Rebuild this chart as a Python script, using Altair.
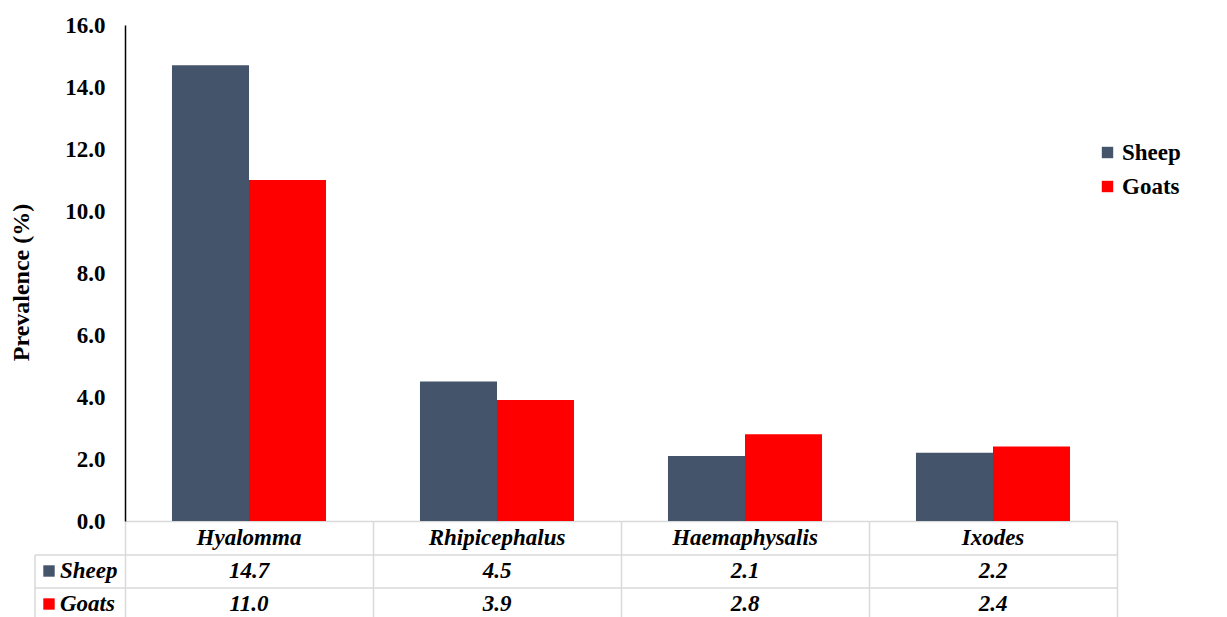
import altair as alt
import pandas as pd

categories = ["Hyalomma", "Rhipicephalus", "Haemaphysalis", "Ixodes"]
series = ["Sheep", "Goats"]
sheep = [14.7, 4.5, 2.1, 2.2]
goats = [11.0, 3.9, 2.8, 2.4]
colors = ["#44546A", "#FF0000"]

rows = []
for c, s, g in zip(categories, sheep, goats):
    rows.append({"category": c, "series": "Sheep", "value": s, "label": f"{s:.1f}"})
    rows.append({"category": c, "series": "Goats", "value": g, "label": f"{g:.1f}"})
df = pd.DataFrame(rows)
cat_df = pd.DataFrame({"category": categories})
ser_df = pd.DataFrame({"series": series})

FONT = "Liberation Serif"
FS = 23
GRID = "#d9d9d9"
W, H = 992, 496

xenc = alt.X("category:N", sort=categories, title=None,
             scale=alt.Scale(domain=categories, paddingInner=0, paddingOuter=0),
             axis=alt.Axis(labels=False, ticks=True, tickBand="extent", tickSize=96,
                           tickColor=GRID, tickWidth=1.5, domainColor=GRID, domainWidth=1.5,
                           grid=False))
color_scale = alt.Scale(domain=series, range=colors)
row_scale = alt.Scale(domain=series, range=[546, 579], padding=0)

bars = alt.Chart(df).mark_bar().encode(
    x=xenc,
    xOffset=alt.XOffset("series:N", sort=series,
                        scale=alt.Scale(domain=series, paddingInner=0, paddingOuter=0.61)),
    y=alt.Y("value:Q", title="Prevalence (%)",
            scale=alt.Scale(domain=[0, 16], nice=False),
            axis=alt.Axis(values=list(range(0, 17, 2)), format=".1f", ticks=False, grid=False,
                          domainColor="black", domainWidth=1.5, labelPadding=20,
                          labelFont=FONT, labelFontSize=FS, labelFontWeight="bold", labelColor="black",
                          titleFont=FONT, titleFontSize=24, titleFontWeight="bold", titleColor="black",
                          titlePadding=31, titleY=257)),
    color=alt.Color("series:N", scale=color_scale, sort=series,
                    legend=alt.Legend(title=None, orient="none", legendX=971, legendY=116,
                                      symbolType="square", symbolSize=130, symbolStrokeWidth=0,
                                      labelFont=FONT, labelFontSize=FS, labelFontWeight="bold",
                                      labelColor="black", rowPadding=10, labelOffset=3)),
)

header = alt.Chart(cat_df).mark_text(font=FONT, fontSize=FS, fontWeight="bold", fontStyle="italic",
                                     color="black", baseline="middle").encode(
    x=alt.X("category:N", sort=categories),
    y=alt.value(513),
    text="category:N",
)

values = alt.Chart(df).mark_text(font=FONT, fontSize=FS, fontWeight="bold", fontStyle="italic",
                                 color="black", baseline="middle").encode(
    x=alt.X("category:N", sort=categories),
    y=alt.Y("series:N", sort=series, axis=None, scale=row_scale),
    text="label:N",
)

row_labels = alt.Chart(ser_df).mark_text(font=FONT, fontSize=FS, fontWeight="bold", fontStyle="italic",
                                         color="black", baseline="middle", align="left").encode(
    x=alt.value(-65),
    y=alt.Y("series:N", sort=series, axis=None, scale=row_scale),
    text="series:N",
)

row_keys = alt.Chart(ser_df).mark_point(shape="square", filled=True, size=130, opacity=1).encode(
    x=alt.value(-76),
    y=alt.Y("series:N", sort=series, axis=None, scale=row_scale),
    color=alt.Color("series:N", scale=color_scale, sort=series, legend=None),
)

one = alt.Data(values=[{}])
hline1 = alt.Chart(one).mark_rule(color=GRID, strokeWidth=1.5).encode(
    x=alt.value(-90), x2=alt.value(W), y=alt.value(530))
hline2 = alt.Chart(one).mark_rule(color=GRID, strokeWidth=1.5).encode(
    x=alt.value(-90), x2=alt.value(W), y=alt.value(563))
vline = alt.Chart(one).mark_rule(color=GRID, strokeWidth=1.5).encode(
    x=alt.value(-90), y=alt.value(530), y2=alt.value(600))

chart = alt.layer(bars, hline1, hline2, vline, header, values, row_labels, row_keys).resolve_scale(
    y="independent"
).properties(
    width=W, height=H,
    autosize=alt.AutoSizeParams(type="none"),
    padding={"left": 125, "top": 25, "right": 110, "bottom": 96},
    background="white",
).configure_view(stroke=None)

chart.save("out.html", embed_options={"renderer": "svg", "actions": False})
